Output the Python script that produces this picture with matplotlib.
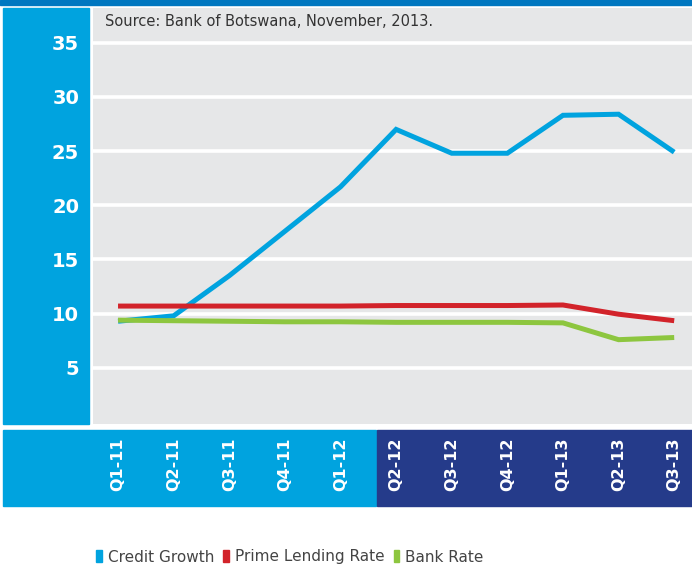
import matplotlib.pyplot as plt
from matplotlib.patches import Rectangle, Patch

# quarterly series, per cent
quarters = ['Q1-11', 'Q2-11', 'Q3-11', 'Q4-11', 'Q1-12', 'Q2-12',
            'Q3-12', 'Q4-12', 'Q1-13', 'Q2-13', 'Q3-13']
credit_growth = [9.3, 9.8, 13.5, 17.6, 21.7, 27.0, 24.8, 24.8, 28.3, 28.4, 24.9]
prime_rate = [10.7, 10.7, 10.7, 10.7, 10.7, 10.75, 10.75, 10.75, 10.8, 9.95, 9.35]
bank_rate = [9.4, 9.35, 9.3, 9.25, 9.25, 9.2, 9.2, 9.2, 9.15, 7.6, 7.8]
y_ticks = [5, 10, 15, 20, 25, 30, 35]

light_blue = '#00A3DF'
navy = '#253B8A'
top_blue = '#0077C0'
panel_grey = '#E6E7E8'
red = '#D2232A'
green = '#8DC63F'

W, H = 692, 567
fig = plt.figure(figsize=(W / 100, H / 100), dpi=100)


def fx(px):
    return px / W


def fy(py):
    return 1 - py / H


# top strip and the blue side/bottom panels, kept behind the axes
panels = [
    ((0, fy(5)), 1, 5 / H, top_blue),
    ((fx(3), fy(424)), fx(86), 416 / H, light_blue),
    ((fx(3), fy(506)), fx(373), 76 / H, light_blue),
    ((fx(377), fy(506)), fx(315), 76 / H, navy),
]
for xy, w, h, c in panels:
    fig.patches.append(Rectangle(xy, w, h, transform=fig.transFigure,
                                 color=c, zorder=-5))

ax = fig.add_axes([fx(93), fy(424), fx(599), 416 / H])
ax.set_facecolor(panel_grey)
x = list(range(len(quarters)))
ax.plot(x, credit_growth, color=light_blue, lw=3.6, solid_joinstyle='miter',
        solid_capstyle='butt', zorder=3)
ax.plot(x, prime_rate, color=red, lw=3.6, solid_joinstyle='miter',
        solid_capstyle='butt', zorder=3)
ax.plot(x, bank_rate, color=green, lw=3.6, solid_joinstyle='miter',
        solid_capstyle='butt', zorder=4)

ax.set_xlim(-0.45, 10.32)
ax.set_ylim(-0.18, 38.2)
ax.set_yticks(y_ticks)
ax.set_yticklabels([str(v) for v in y_ticks], fontsize=14, fontweight='bold',
                   color='white')
ax.tick_params(axis='y', length=0, pad=10)
ax.grid(axis='y', color='white', lw=2.6, zorder=1)
ax.set_axisbelow(True)
for s in ax.spines.values():
    s.set_visible(False)

ax.set_xticks(x)
ax.set_xticklabels(quarters, rotation=90, fontsize=11.5, fontweight='bold',
                   color='white')
ax.tick_params(axis='x', length=0, pad=10)

fig.text(fx(105), fy(22), 'Source: Bank of Botswana, November, 2013.',
         fontsize=10.5, color='#333333', va='center', ha='left')

handles = [Patch(color=light_blue, label='Credit Growth'),
           Patch(color=red, label='Prime Lending Rate'),
           Patch(color=green, label='Bank Rate')]
fig.legend(handles=handles, loc='center', bbox_to_anchor=(fx(290), fy(557)),
           ncol=3, frameon=False, fontsize=11, handlelength=0.35,
           handleheight=0.8, handletextpad=0.4, columnspacing=0.6,
           labelcolor='#444444')

plt.savefig('out.png', dpi=100)
